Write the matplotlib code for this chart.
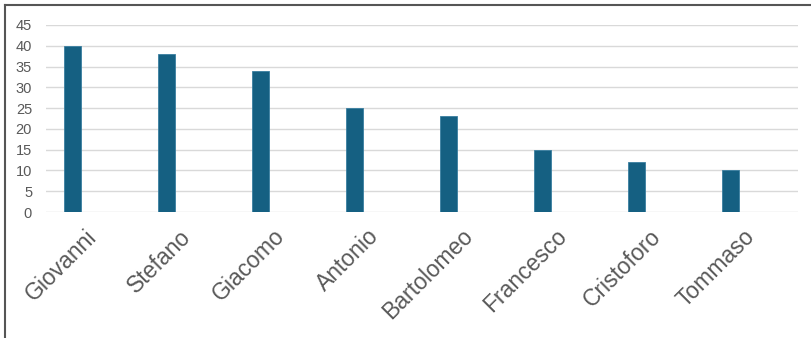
import matplotlib.pyplot as plt
from matplotlib.lines import Line2D
import matplotlib.transforms as mtransforms

names = ["Giovanni", "Stefano", "Giacomo", "Antonio", "Bartolomeo",
         "Francesco", "Cristoforo", "Tommaso"]
counts = [40, 38, 34, 25, 23, 15, 12, 10]
yticks = [0, 5, 10, 15, 20, 25, 30, 35, 40, 45]

plt.rcParams['font.family'] = ['Liberation Sans', 'DejaVu Sans']

fig = plt.figure(figsize=(8.11, 3.38), dpi=100)
ax = fig.add_axes([46 / 811, 1 - 212 / 338, 752 / 811, 187 / 338])

x = range(len(names))
ax.bar(x, counts, width=0.175, color="#156082", edgecolor="#3a7fa0",
       linewidth=0.6, zorder=3)

ax.set_xlim(-0.282, 7.718)
ax.set_ylim(0, 45)
ax.set_yticks(yticks)
ax.grid(axis="y", color="#d9d9d9", linewidth=1, zorder=0)
for s in ax.spines.values():
    s.set_visible(False)
ax.tick_params(axis="y", length=0, pad=10, labelsize=10.5, labelcolor="#595959")
ax.tick_params(axis="x", length=0, pad=0)

ax.set_xticks(list(x))
ax.set_xticklabels(names, rotation=45, ha="right", va="center",
                   rotation_mode="anchor", fontsize=16.5, color="#595959")
offset = mtransforms.ScaledTranslation(21 / 100, -21 / 100, fig.dpi_scale_trans)
for lab in ax.get_xticklabels():
    lab.set_transform(lab.get_transform() + offset)

# frame lines at top and left of the picture
fig.add_artist(Line2D([5 / 811, 1], [1 - 5 / 338, 1 - 5 / 338],
                      color="#555555", linewidth=1.5, transform=fig.transFigure))
fig.add_artist(Line2D([5 / 811, 5 / 811], [0, 1 - 5 / 338],
                      color="#555555", linewidth=1.5, transform=fig.transFigure))

fig.savefig("out.png", dpi=100)
